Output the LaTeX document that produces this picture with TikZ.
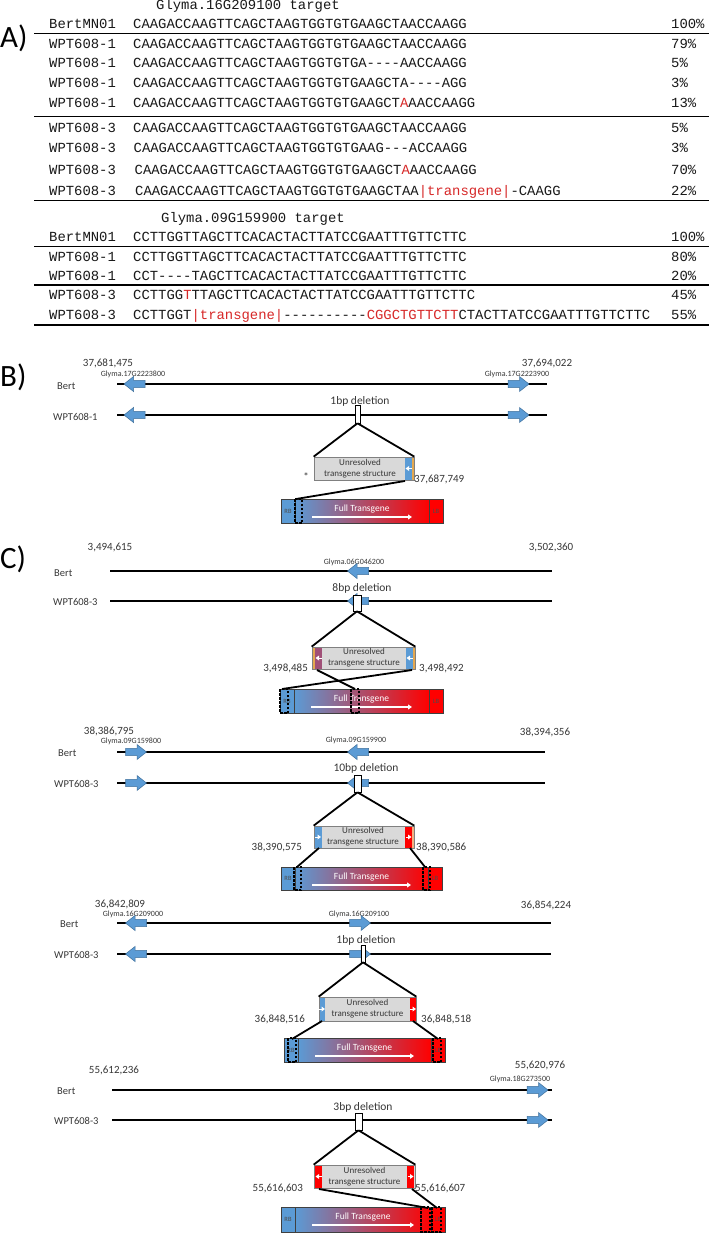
\documentclass[tikz,border=0pt]{standalone}
\usepackage{fontspec}
\setmainfont{Carlito}
\setmonofont{Liberation Mono}
\usetikzlibrary{arrows.meta}
\definecolor{gblue}{RGB}{91,155,213}
\definecolor{gblueD}{RGB}{65,113,156}
\definecolor{tred}{RGB}{255,0,0}
\definecolor{ftmid}{RGB}{165,85,150}
\definecolor{seqred}{RGB}{215,40,40}
\definecolor{boxgray}{RGB}{217,217,217}
\definecolor{orng}{RGB}{228,168,80}
\definecolor{peach}{RGB}{244,177,131}
\definecolor{mauve}{RGB}{160,80,120}
\definecolor{txtg}{RGB}{55,55,55}
\tikzset{
  seq/.style={anchor=base west, inner sep=0, font=\ttfamily\fontsize{13.9}{14}\selectfont, text={black!90}},
  bigl/.style={anchor=west, inner sep=0, font=\fontsize{31}{32}\selectfont, text=black},
  sepline/.style={line width=1.2pt, draw=black},
  num/.style={inner sep=0, font=\fontsize{11}{12}\selectfont, text=txtg},
  glab/.style={inner sep=0, font=\fontsize{8}{9}\selectfont, text=txtg},
  rowlab/.style={anchor=west, inner sep=0, font=\fontsize{10.5}{12}\selectfont, text=txtg},
  dellab/.style={inner sep=0, font=\fontsize{11.5}{12}\selectfont, text=txtg},
  chrom/.style={line width=2.4pt, draw=black},
  delbox/.style={draw=black, fill=white, line width=0.6pt, inner sep=0},
  conn/.style={line width=1.8pt, draw=black},
  ubox/.style={fill=boxgray, draw=gray, line width=0.7pt, inner sep=0},
  utext/.style={inner sep=0, font=\fontsize{9}{11}\selectfont, text=txtg, align=center},
  rblab/.style={inner sep=0, font=\fontsize{6.5}{7}\selectfont, text=black!70},
  fttext/.style={inner sep=0, font=\fontsize{9.5}{10}\selectfont, text=white},
  ftline/.style={draw=black!75, line width=0.8pt},
  ftarrow/.style={draw=white, line width=1.8pt, -{Triangle[length=4pt,width=5pt]}},
  dashrect/.style={draw=black, line width=1.3pt, dash pattern=on 2.5pt off 1.5pt},
  garrL/.pic={\filldraw[fill=gblue, draw=gblueD, line width=0.5pt] (-10.5,0) -- (-1,-7.5) -- (-1,-3.7) -- (10.5,-3.7) -- (10.5,3.7) -- (-1,3.7) -- (-1,7.5) -- cycle;},
  garrR/.pic={\filldraw[fill=gblue, draw=gblueD, line width=0.5pt] (10.5,0) -- (1,-7.5) -- (1,-3.7) -- (-10.5,-3.7) -- (-10.5,3.7) -- (1,3.7) -- (1,7.5) -- cycle;},
  wL/.pic={\fill[white] (-3,0) -- (0.5,-2.5) -- (0.5,2.5) -- cycle; \draw[white, line width=0.8pt] (0,0) -- (3,0);},
  wR/.pic={\fill[white] (3,0) -- (-0.5,-2.5) -- (-0.5,2.5) -- cycle; \draw[white, line width=0.8pt] (0,0) -- (-3,0);},
}
\newcommand{\rd}[1]{\textcolor{seqred}{#1}}
\newcommand{\ftransgene}[5]{%
  \shade[left color=gblue, middle color=ftmid, right color=tred] (#2+14,#3) rectangle (#4-14,#5);
  \fill[gblue] (#2,#3) rectangle (#2+14,#5);
  \fill[tred] (#4-14,#3) rectangle (#4,#5);
  \draw[ftline] (#2,#3) rectangle (#4,#5);
  \draw[ftline] (#2+14,#3) -- (#2+14,#5);
  \draw[ftline] (#4-14,#3) -- (#4-14,#5);
  \node[rblab] (#1rb) at (#2+7,{(#3+#5)/2}) {RB};
  \node[rblab] (#1lb) at (#4-7,{(#3+#5)/2}) {LB};
  \node[fttext] (#1t) at ({(#2+#4)/2},#3+10) {Full Transgene};
  \draw[ftarrow] (#2+31,#3+18) -- (#4-31,#3+18);
}
\begin{document}
\begin{tikzpicture}[x=1pt,y=-1pt]
\useasboundingbox (0,0) rectangle (709,1233);
\fill[white] (0,0) rectangle (709,1233);

% ================= A =================
\node[bigl] (lA) at (0,38) {A)};
\node[seq] (t1) at (156,10) {Glyma.16G209100 target};

\node[seq] (a0l) at (49,28.5) {BertMN01};
\node[seq] (a0s) at (133,28.5) {CAAGACCAAGTTCAGCTAAGTGGTGTGAAGCTAACCAAGG};
\node[seq] (a0p) at (671,28.5) {100\%};
\draw[sepline] (34,33.5) -- (709,33.5);

\node[seq] (a1l) at (49,48.5) {WPT608-1};
\node[seq] (a1s) at (133,48.5) {CAAGACCAAGTTCAGCTAAGTGGTGTGAAGCTAACCAAGG};
\node[seq] (a1p) at (671,48.5) {79\%};
\node[seq] (a2l) at (49,68) {WPT608-1};
\node[seq] (a2s) at (133,68) {CAAGACCAAGTTCAGCTAAGTGGTGTGA----AACCAAGG};
\node[seq] (a2p) at (671,68) {5\%};
\node[seq] (a3l) at (49,87.5) {WPT608-1};
\node[seq] (a3s) at (133,87.5) {CAAGACCAAGTTCAGCTAAGTGGTGTGAAGCTA----AGG};
\node[seq] (a3p) at (671,87.5) {3\%};
\node[seq] (a4l) at (49,107.5) {WPT608-1};
\node[seq] (a4s) at (133,107.5) {CAAGACCAAGTTCAGCTAAGTGGTGTGAAGCT\rd{A}AACCAAGG};
\node[seq] (a4p) at (671,107.5) {13\%};
\draw[sepline] (34,116.5) -- (709,116.5);

\node[seq] (a5l) at (49,132.5) {WPT608-3};
\node[seq] (a5s) at (133,132.5) {CAAGACCAAGTTCAGCTAAGTGGTGTGAAGCTAACCAAGG};
\node[seq] (a5p) at (671,132.5) {5\%};
\node[seq] (a6l) at (49,153) {WPT608-3};
\node[seq] (a6s) at (133.5,153) {CAAGACCAAGTTCAGCTAAGTGGTGTGAAG---ACCAAGG};
\node[seq] (a6p) at (671,153) {3\%};
\node[seq] (a7l) at (49,174.5) {WPT608-3};
\node[seq] (a7s) at (134.5,174.5) {CAAGACCAAGTTCAGCTAAGTGGTGTGAAGCT\rd{A}AACCAAGG};
\node[seq] (a7p) at (671,174.5) {70\%};
\node[seq] (a8l) at (49,195.5) {WPT608-3};
\node[seq] (a8s) at (135,195.5) {CAAGACCAAGTTCAGCTAAGTGGTGTGAAGCTAA\rd{|transgene|}-CAAGG};
\node[seq] (a8p) at (671,195.5) {22\%};
\draw[sepline] (34,200.5) -- (709,200.5);

\node[seq] (t2) at (161,222.5) {Glyma.09G159900 target};
\node[seq] (b0l) at (49,241.5) {BertMN01};
\node[seq] (b0s) at (133,241.5) {CCTTGGTTAGCTTCACACTACTTATCCGAATTTGTTCTTC};
\node[seq] (b0p) at (671,241.5) {100\%};
\draw[sepline] (34,246.5) -- (709,246.5);
\node[seq] (b1l) at (49,261.5) {WPT608-1};
\node[seq] (b1s) at (133,261.5) {CCTTGGTTAGCTTCACACTACTTATCCGAATTTGTTCTTC};
\node[seq] (b1p) at (671,261.5) {80\%};
\node[seq] (b2l) at (49,280.5) {WPT608-1};
\node[seq] (b2s) at (133,280.5) {CCT----TAGCTTCACACTACTTATCCGAATTTGTTCTTC};
\node[seq] (b2p) at (671,280.5) {20\%};
\draw[sepline] (34,285) -- (709,285);
\node[seq] (b3l) at (49,299.5) {WPT608-3};
\node[seq] (b3s) at (133,299.5) {CCTTGG\rd{T}TTAGCTTCACACTACTTATCCGAATTTGTTCTTC};
\node[seq] (b3p) at (671,299.5) {45\%};
\node[seq] (b4l) at (49,319.5) {WPT608-3};
\node[seq] (b4s) at (133,319.5) {CCTTGGT\rd{|transgene|}----------\rd{CGGCTGTTCTT}CTACTTATCCGAATTTGTTCTTC};
\node[seq] (b4p) at (671,319.5) {55\%};
\draw[sepline] (34,325) -- (709,325);

% ================= B =================
\node[bigl] (lB) at (0,377) {B)};
\node[num] (bL) at (108,363) {37,681,475};
\node[glab] (bg1) at (133,374) {Glyma.17G2223800};
\node[num] (bR) at (547,363) {37,694,022};
\node[glab] (bg2) at (517,374) {Glyma.17G2223900};
\node[rowlab] (bB) at (57,386) {Bert};
\coordinate (bB1) at (117,384); \coordinate (bB2) at (547,384);
\draw[chrom] (bB1) -- (bB2);
\pic at (134.5,384) {garrL}; \pic at (518.5,384) {garrR};
\node[rowlab] (bW) at (53,417) {WPT608-1};
\coordinate (bW1) at (117,415); \coordinate (bW2) at (547,415);
\draw[chrom] (bW1) -- (bW2);
\pic at (134.5,415) {garrL}; \pic at (518.5,415) {garrR};
\node[dellab] (bdl) at (360,401) {1bp deletion};
\node[delbox, minimum width=5, minimum height=18] (bdel) at (357.5,414) {};
\node[ubox, minimum width=100, minimum height=23] (bu) at (364,468.5) {};
\fill[gblue] (405,457) rectangle (412,480);
\fill[orng] (412,457) rectangle (414,480);
\draw[draw=gray, line width=0.7pt] (314,457) rectangle (414,480);
\pic at (408.5,468.5) {wL};
\node[utext] (but) at (360,468.5) {Unresolved\\transgene structure};
\draw[conn] (bdel.south) -- (bu.north west);
\draw[conn] (bdel.south) -- (bu.north east);
\node[num] (bstar) at (306,477) {*};
\node[num, anchor=west] (bpos) at (414,479) {37,687,749};
\ftransgene{bft}{281}{499}{443}{523}
\draw[dashrect] (295,499) rectangle (302,523);
\coordinate (bu1) at (405,481); \coordinate (bft1) at (296,499);
\draw[conn] (bu1) -- (bft1);

% ================= C block 1 =================
\node[bigl] (lC) at (0,559) {C)};
\node[num] (c1L) at (110,547) {3,494,615};
\node[num] (c1R) at (551,547) {3,502,360};
\node[glab] (c1g) at (354,562) {Glyma.06G046200};
\node[rowlab] (c1B) at (54,573) {Bert};
\coordinate (c1B1) at (110,571); \coordinate (c1B2) at (552,571);
\draw[chrom] (c1B1) -- (c1B2);
\pic at (358,571) {garrL};
\node[dellab] (c1dl) at (362,588) {8bp deletion};
\node[rowlab] (c1W) at (53,602) {WPT608-3};
\coordinate (c1W1) at (110,601); \coordinate (c1W2) at (552,601);
\draw[chrom] (c1W1) -- (c1W2);
\pic at (358,601) {garrL};
\node[delbox, minimum width=8, minimum height=16] (c1del) at (357,603) {};
\node[ubox, minimum width=103, minimum height=22] (c1u) at (363.5,658) {};
\fill[orng] (312,647) rectangle (315,669);
\fill[mauve] (315,647) rectangle (322,669);
\fill[gblue] (406,647) rectangle (413,669);
\fill[orng] (413,647) rectangle (415,669);
\draw[draw=gray, line width=0.7pt] (312,647) rectangle (415,669);
\pic at (318.5,658) {wL}; \pic at (409.5,658) {wL};
\node[utext] (c1ut) at (364,658) {Unresolved\\transgene structure};
\draw[conn] (c1del.south) -- (c1u.north west);
\draw[conn] (c1del.south) -- (c1u.north east);
\node[num, anchor=east] (c1p1) at (308,668) {3,498,485};
\node[num, anchor=west] (c1p2) at (419,668) {3,498,492};
\ftransgene{cft1}{280}{689}{443}{713}
\draw[dashrect] (280,689) rectangle (288,713);
\draw[dashrect] (351,689) rectangle (359,713);
\coordinate (c1a) at (317,670); \coordinate (c1b) at (355,689);
\coordinate (c1c) at (412,670); \coordinate (c1d) at (282,689);
\draw[conn] (c1a) -- (c1b);
\draw[conn] (c1c) -- (c1d);

% ================= C block 2 =================
\node[num] (c2L) at (109,731) {38,386,795};
\node[glab] (c2g1) at (131,741.5) {Glyma.09G159800};
\node[num] (c2R) at (545,732) {38,394,356};
\node[glab] (c2g2) at (356,740) {Glyma.09G159900};
\node[rowlab] (c2B) at (58,753) {Bert};
\coordinate (c2B1) at (117,752); \coordinate (c2B2) at (545,752);
\draw[chrom] (c2B1) -- (c2B2);
\pic at (136,752) {garrR}; \pic at (358,752) {garrL};
\node[dellab] (c2dl) at (366,768) {10bp deletion};
\node[rowlab] (c2W) at (54,784) {WPT608-3};
\coordinate (c2W1) at (117,783); \coordinate (c2W2) at (545,783);
\draw[chrom] (c2W1) -- (c2W2);
\pic at (136,783) {garrR}; \pic at (358,783) {garrL};
\node[delbox, minimum width=7, minimum height=17] (c2del) at (357.5,783.5) {};
\node[ubox, minimum width=100, minimum height=22] (c2u) at (364,837) {};
\fill[gblue] (314,826) rectangle (322,848);
\fill[tred] (405,826) rectangle (412,848);
\fill[peach] (412,826) rectangle (414,848);
\draw[draw=gray, line width=0.7pt] (314,826) rectangle (414,848);
\pic at (318,837) {wR}; \pic at (408.5,837) {wR};
\node[utext] (c2ut) at (363,837) {Unresolved\\transgene structure};
\draw[conn] (c2del.south) -- (c2u.north west);
\draw[conn] (c2del.south) -- (c2u.north east);
\node[num, anchor=east] (c2p1) at (302,847) {38,390,575};
\node[num, anchor=west] (c2p2) at (416,847) {38,390,586};
\ftransgene{cft2}{281}{867}{442}{890}
\draw[dashrect] (294,867) rectangle (301,890);
\draw[dashrect] (423,867) rectangle (430,890);
\coordinate (c2a) at (319,848); \coordinate (c2b) at (297,867);
\coordinate (c2c) at (410,848); \coordinate (c2d) at (425,867);
\draw[conn] (c2a) -- (c2b);
\draw[conn] (c2c) -- (c2d);

% ================= C block 3 =================
\node[num] (c3L) at (120,904) {36,842,809};
\node[glab] (c3g1) at (133,914.5) {Glyma.16G209000};
\node[num] (c3R) at (546,905) {36,854,224};
\node[glab] (c3g2) at (359,914) {Glyma.16G209100};
\node[rowlab] (c3B) at (60,924) {Bert};
\coordinate (c3B1) at (117,923); \coordinate (c3B2) at (551,923);
\draw[chrom] (c3B1) -- (c3B2);
\pic at (136,923) {garrL}; \pic at (360,923) {garrR};
\node[dellab] (c3dl) at (366,940) {1bp deletion};
\node[rowlab] (c3W) at (54,955) {WPT608-3};
\coordinate (c3W1) at (117,954); \coordinate (c3W2) at (551,954);
\draw[chrom] (c3W1) -- (c3W2);
\pic at (136,954) {garrL}; \pic at (360,954) {garrR};
\node[delbox, minimum width=4, minimum height=17] (c3del) at (363,953.5) {};
\node[ubox, minimum width=97, minimum height=24] (c3u) at (367.5,1009) {};
\fill[gblue] (319,997) rectangle (325,1021);
\fill[tred] (410,997) rectangle (416,1021);
\draw[draw=gray, line width=0.7pt] (319,997) rectangle (416,1021);
\pic at (322,1009) {wR}; \pic at (413,1009) {wR};
\node[utext] (c3ut) at (367.5,1009) {Unresolved\\transgene structure};
\draw[conn] (c3del.south) -- (c3u.north west);
\draw[conn] (c3del.south) -- (c3u.north east);
\node[num, anchor=east] (c3p1) at (305,1019) {36,848,516};
\node[num, anchor=west] (c3p2) at (421,1019) {36,848,518};
\ftransgene{cft3}{284}{1038}{445}{1062}
\draw[dashrect] (288,1038) rectangle (296,1062);
\draw[dashrect] (433,1038) rectangle (441,1062);
\coordinate (c3a) at (322,1021); \coordinate (c3b) at (292,1039);
\coordinate (c3c) at (413,1021); \coordinate (c3d) at (438,1039);
\draw[conn] (c3a) -- (c3b);
\draw[conn] (c3c) -- (c3d);

% ================= C block 4 =================
\node[num] (c4L) at (114,1070) {55,612,236};
\node[num] (c4R) at (540,1065) {55,620,976};
\node[glab] (c4g) at (520,1079) {Glyma.18G273500};
\node[rowlab] (c4B) at (57,1091) {Bert};
\coordinate (c4B1) at (112,1090); \coordinate (c4B2) at (552,1090);
\draw[chrom] (c4B1) -- (c4B2);
\pic at (537.5,1090) {garrR};
\node[dellab] (c4dl) at (363,1107) {3bp deletion};
\node[rowlab] (c4W) at (54,1121) {WPT608-3};
\coordinate (c4W1) at (112,1120); \coordinate (c4W2) at (552,1120);
\draw[chrom] (c4W1) -- (c4W2);
\pic at (537.5,1120) {garrR};
\node[delbox, minimum width=7, minimum height=17] (c4del) at (358.5,1121.5) {};
\node[ubox, minimum width=101, minimum height=23] (c4u) at (364.5,1176.5) {};
\fill[tred] (315,1165) rectangle (322,1188);
\fill[tred] (407,1165) rectangle (414,1188);
\draw[draw=gray, line width=0.7pt] (314,1165) rectangle (415,1188);
\pic at (318.5,1176.5) {wL}; \pic at (410.5,1176.5) {wR};
\node[utext] (c4ut) at (364.5,1176.5) {Unresolved\\transgene structure};
\draw[conn] (c4del.south) -- (c4u.north west);
\draw[conn] (c4del.south) -- (c4u.north east);
\node[num, anchor=east] (c4p1) at (303,1188) {55,616,603};
\node[num, anchor=west] (c4p2) at (415,1188) {55,616,607};
\ftransgene{cft4}{281}{1207}{445}{1232}
\draw[dashrect] (421,1207) rectangle (430,1232);
\draw[dashrect] (432,1207) rectangle (441,1232);
\coordinate (c4a) at (319,1189); \coordinate (c4b) at (428,1208);
\coordinate (c4c) at (412,1189); \coordinate (c4d) at (437,1208);
\draw[conn] (c4a) -- (c4b);
\draw[conn] (c4c) -- (c4d);
\end{tikzpicture}
\end{document}
